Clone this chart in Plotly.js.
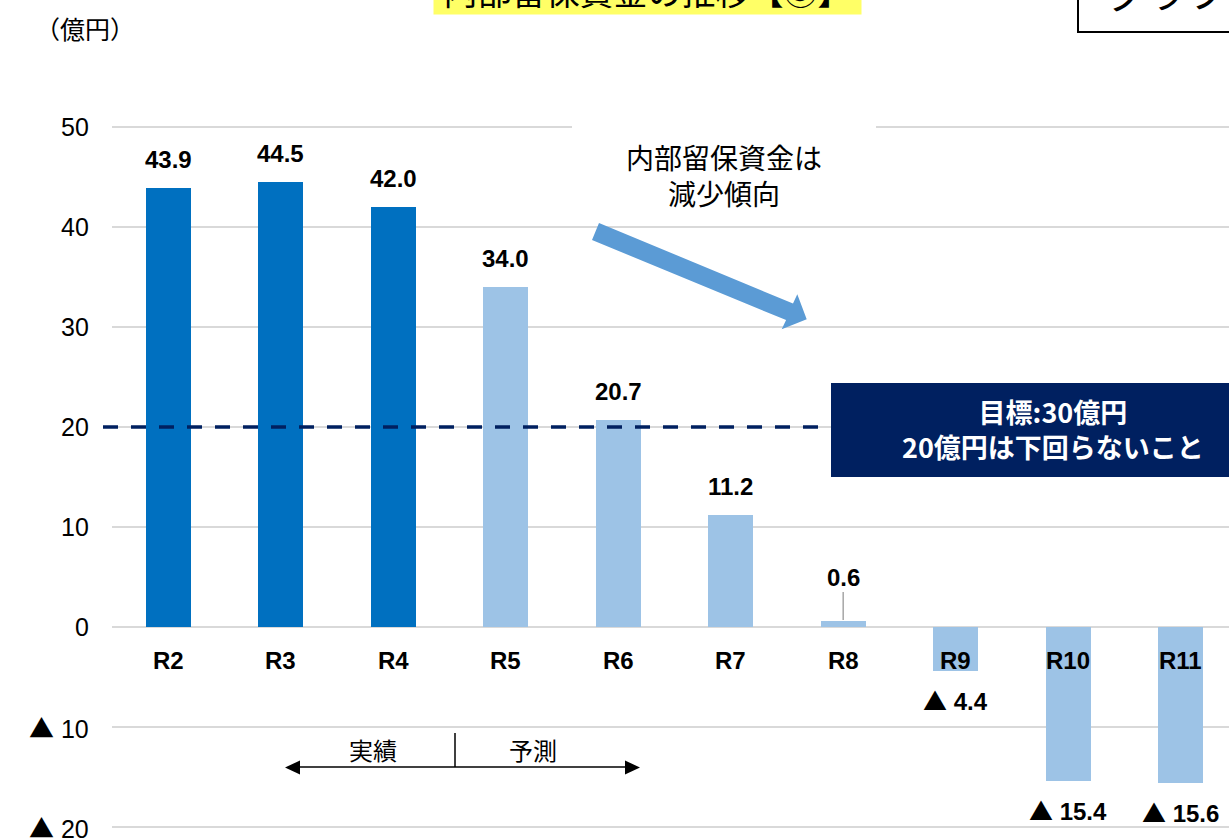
<!DOCTYPE html>
<html>
<head>
<meta charset="utf-8">
<script src="https://cdn.plot.ly/plotly-3.0.1.min.js"></script>
<style>html,body{margin:0;padding:0;background:#fff;}#chart{width:1229px;height:840px;}</style>
</head>
<body>
<div id="chart"></div>
<script>
// ---- data ----
const categories = ['R2','R3','R4','R5','R6','R7','R8','R9','R10','R11'];
const values = [43.9, 44.5, 42.0, 34.0, 20.7, 11.2, 0.6, -4.4, -15.4, -15.6];
const phases = ['実績','実績','実績','予測','予測','予測','予測','予測','予測','予測'];
const yTickVals = [50, 40, 30, 20, 10, 0, -10, -20];
const yTickText = ['50','40','30','20','10','0','▲ 10','▲ 20'];
const targetValue = 20;
const unitLabel = '（億円）';
const titleText = '内部留保資金の推移【③】';
const trendNote = '内部留保資金は<br>減少傾向';
const targetNote = '目標:30億円<br>20億円は下回らないこと';
const phaseLabels = ['実績','予測'];

// ---- layout helpers ----
const W = 1229, H = 840, ML = 112;
const PW = W - ML;
const px = x => (x - ML) / PW;      // pixel x -> paper x
const py = y => 1 - y / H;          // pixel y -> paper y
const NUM = 'Liberation Sans, Arial, Noto Sans CJK JP, sans-serif';
const JP = 'Noto Sans CJK JP, sans-serif';
const TRI = '<span style="font-family:Noto Sans CJK JP">▲</span>';
const tri = s => s.replace('▲', TRI);

const colors = phases.map(p => p === '実績' ? '#0070C0' : '#9DC3E6');
const fmt = v => v < 0 ? '▲ ' + Math.abs(v).toFixed(1) : v.toFixed(1);

const trace = {
  type: 'bar', x: categories, y: values,
  marker: {color: colors, line: {width: 0}},
  width: 0.4, hoverinfo: 'skip'
};

const annotations = [];
// y tick labels
yTickVals.forEach((v, i) => annotations.push({
  xref: 'paper', yref: 'y', x: px(91), y: v, text: tri(yTickText[i]), showarrow: false,
  xanchor: 'right', yanchor: 'middle',
  font: {family: NUM, size: 25, color: '#000'}
}));
// category labels at zero line
categories.forEach(c => annotations.push({
  x: c, y: 0, xref: 'x', yref: 'y', text: c, showarrow: false,
  yanchor: 'middle', yshift: -33,
  font: {family: NUM, size: 24, color: '#000', weight: 'bold'}
}));
// value labels
values.forEach((v, i) => {
  const small = Math.abs(v) < 2;
  const off = small ? 44 : (v >= 0 ? 29 : 28);
  annotations.push({
    x: categories[i], y: v, xref: 'x', yref: 'y', text: tri(fmt(v)), showarrow: false,
    yanchor: 'middle', yshift: v >= 0 ? off : -off,
    font: {family: NUM, size: 24, color: '#000', weight: 'bold'}
  });
});
// unit label
annotations.push({xref:'paper', yref:'paper', x: px(85), y: py(28), text: unitLabel, showarrow:false,
  xanchor:'center', yanchor:'middle', font:{family: JP, size: 25, color:'#000'}});
// title (cropped at top)
annotations.push({xref:'paper', yref:'paper', x: px(647), y: py(15), text: titleText, showarrow:false,
  xanchor:'center', yanchor:'bottom', bgcolor:'#FFFF66', width: 427, height: 48, borderpad: 0,
  font:{family: JP, size: 34, color:'#000'}});
// top right cropped box text
annotations.push({xref:'paper', yref:'paper', x: px(1105), y: py(22), text: 'グラフ', showarrow:false,
  xanchor:'left', yanchor:'bottom', font:{family: JP, size: 40, color:'#000'}});
// trend note
annotations.push({xref:'paper', yref:'paper', x: px(724), y: py(175), text: trendNote, showarrow:false,
  xanchor:'center', yanchor:'middle', font:{family: JP, size: 28, color:'#000'}});
// target note
annotations.push({xref:'paper', yref:'paper', x: px(1053), y: py(429), text: targetNote, showarrow:false,
  xanchor:'center', yanchor:'middle', font:{family: JP, size: 27, color:'#fff', weight:'bold'}});
// phase labels
annotations.push({xref:'paper', yref:'paper', x: px(373), y: py(749), text: phaseLabels[0], showarrow:false,
  xanchor:'center', yanchor:'middle', font:{family: JP, size: 24, color:'#000'}});
annotations.push({xref:'paper', yref:'paper', x: px(533), y: py(749), text: phaseLabels[1], showarrow:false,
  xanchor:'center', yanchor:'middle', font:{family: JP, size: 24, color:'#000'}});

// arrow polygon (pixels)
const arrowPts = [[599,223],[793,303.5],[797.3,294.3],[806.7,319.3],[781.7,329.3],[786.1,320.1],[592,240]];
const poly = (pts) => 'M' + pts.map(p => px(p[0]) + ',' + py(p[1])).join(' L') + ' Z';

const leaderIdx = values.findIndex(v => Math.abs(v) < 2 && v > 0);

const shapes = [
  // white box behind the trend note
  {type:'rect', xref:'paper', yref:'paper', x0:px(572), x1:px(876), y0:py(215), y1:py(112),
   fillcolor:'#fff', line:{width:0}, layer:'above'},
  // trend arrow
  {type:'path', xref:'paper', yref:'paper', path: poly(arrowPts), fillcolor:'#5B9BD5', line:{width:0}, layer:'above'},
  // target dashed line
  {type:'line', xref:'paper', yref:'y', x0:px(103), x1:px(830), y0:targetValue, y1:targetValue,
   line:{color:'#002060', width:3.5, dash:'15px,13px'}, layer:'above'},
  // target box
  {type:'rect', xref:'paper', yref:'paper', x0:px(831), x1:px(1260), y0:py(477), y1:py(383),
   fillcolor:'#002060', line:{width:0}, layer:'above'},
  // phase arrow line
  {type:'line', xref:'paper', yref:'paper', x0:px(295), x1:px(630), y0:py(767), y1:py(767),
   line:{color:'#000', width:1.5}, layer:'above'},
  {type:'line', xref:'paper', yref:'paper', x0:px(455), x1:px(455), y0:py(733), y1:py(767),
   line:{color:'#000', width:1.5}, layer:'above'},
  {type:'path', xref:'paper', yref:'paper', path: poly([[285,767.5],[300,760.5],[300,774.5]]),
   fillcolor:'#000', line:{width:0}, layer:'above'},
  {type:'path', xref:'paper', yref:'paper', path: poly([[640,767.5],[625,760.5],[625,774.5]]),
   fillcolor:'#000', line:{width:0}, layer:'above'},
  // top-right cropped box
  {type:'rect', xref:'paper', yref:'paper', x0:px(1078), x1:px(1300), y0:py(32), y1:py(-60),
   fillcolor:'rgba(0,0,0,0)', line:{color:'#000', width:2}, layer:'above'}
];
if (leaderIdx >= 0) {
  shapes.push({type:'line', xref:'x', yref:'y', x0:categories[leaderIdx], x1:categories[leaderIdx],
    y0: values[leaderIdx] + 0.1, y1: values[leaderIdx] + 2.9, line:{color:'#A6A6A6', width:1.5}, layer:'above'});
}

const layout = {
  width: W, height: H,
  margin: {l: ML, r: 0, t: 0, b: 0, pad: 0},
  paper_bgcolor: '#fff', plot_bgcolor: '#fff',
  showlegend: false,
  xaxis: {type:'category', range: [-0.5, -0.5 + PW / 112.49], showticklabels: false, showgrid: false,
          zeroline: false, showline: false, fixedrange: true},
  yaxis: {range: [-21.3, 62.7], tickmode: 'array', tickvals: yTickVals, showticklabels: false,
          showgrid: true, gridcolor: '#D9D9D9', gridwidth: 2, zeroline: false, showline: false,
          ticks: '', fixedrange: true},
  annotations: annotations,
  shapes: shapes,
  bargap: 0
};

Plotly.newPlot('chart', [trace], layout, {displayModeBar: false, staticPlot: true});
</script>
</body>
</html>
